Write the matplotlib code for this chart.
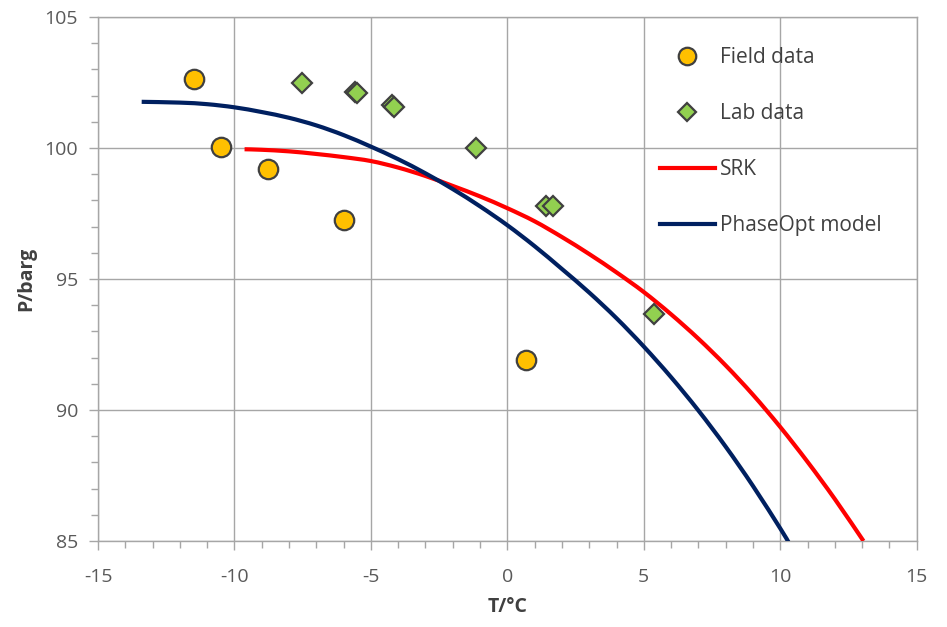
import matplotlib
matplotlib.use("Agg")
import matplotlib.pyplot as plt
from matplotlib.ticker import MultipleLocator
from matplotlib.path import Path
from matplotlib.patches import PathPatch
from matplotlib.lines import Line2D

# ---- data ----
field_T = [-11.47, -10.49, -8.78, -5.97, 0.68]
field_P = [102.63, 100.05, 99.19, 97.25, 91.9]

lab_T = [-7.52, -5.6, -5.5, -4.22, -4.17, -1.15, 1.42, 1.66, 5.38]
lab_P = [102.47, 102.13, 102.08, 101.62, 101.57, 100.0, 97.78, 97.78, 93.65]

srk_T = [-9.63, -9, -8, -7, -6, -5, -4, -3, -2, -1, 0, 1, 2, 3, 4, 5, 6, 7, 8, 9, 10, 11, 12, 13.05]
srk_P = [99.95, 99.93, 99.87, 99.77, 99.65, 99.5, 99.25, 98.93, 98.55, 98.15, 97.7, 97.2,
         96.6, 95.95, 95.25, 94.5, 93.65, 92.72, 91.7, 90.58, 89.35, 88.02, 86.6, 85.0]

po_T = [-13.4, -12, -11, -10, -9, -8, -7, -6, -5, -4, -3, -2, -1, 0, 1, 2, 3, 4, 5, 6, 7, 8, 9, 10, 10.3]
po_P = [101.76, 101.73, 101.67, 101.55, 101.37, 101.15, 100.86, 100.49, 100.05, 99.57, 99.03,
        98.43, 97.77, 97.05, 96.25, 95.38, 94.48, 93.5, 92.42, 91.25, 89.98, 88.6, 87.1, 85.48, 84.96]

labels = ["Field data", "Lab data", "SRK", "PhaseOpt model"]

plt.rcParams['font.family'] = ['Open Sans', 'DejaVu Sans']
plt.rcParams['axes.unicode_minus'] = False


def smooth_path(xs, ys):
    """Excel-style smoothed line: Catmull-Rom through the points as cubic Beziers."""
    pts = list(zip(xs, ys))
    n = len(pts)
    verts = [pts[0]]
    codes = [Path.MOVETO]
    for i in range(n - 1):
        p0 = pts[i - 1] if i > 0 else pts[i]
        p1 = pts[i]
        p2 = pts[i + 1]
        p3 = pts[i + 2] if i + 2 < n else pts[i + 1]
        c1 = (p1[0] + (p2[0] - p0[0]) / 6.0, p1[1] + (p2[1] - p0[1]) / 6.0)
        c2 = (p2[0] - (p3[0] - p1[0]) / 6.0, p2[1] - (p3[1] - p1[1]) / 6.0)
        verts += [c1, c2, p2]
        codes += [Path.CURVE4, Path.CURVE4, Path.CURVE4]
    return Path(verts, codes)


fig = plt.figure(figsize=(9.47, 6.27), dpi=100)
ax = fig.add_axes([0.1035, 0.1372, 0.8645, 0.8358])

grid_c = '#a6a6a6'
ax.set_xlim(-15, 15)
ax.set_ylim(85, 105)
ax.xaxis.set_major_locator(MultipleLocator(5))
ax.xaxis.set_minor_locator(MultipleLocator(1))
ax.yaxis.set_major_locator(MultipleLocator(5))
ax.yaxis.set_minor_locator(MultipleLocator(1))
ax.grid(True, which='major', color=grid_c, linewidth=1.0)
ax.set_axisbelow(True)
for s in ax.spines.values():
    s.set_color(grid_c)
    s.set_linewidth(1.0)

ax.tick_params(axis='both', which='major', direction='out', length=6.5, width=1.0,
               color=grid_c, labelsize=14, labelcolor='#595959')
ax.tick_params(axis='x', which='major', pad=13)
ax.tick_params(axis='y', which='major', pad=8)
ax.tick_params(axis='both', which='minor', direction='out', length=5, width=1.0, color=grid_c)

red = '#FF0000'
navy = '#002060'
ax.add_patch(PathPatch(smooth_path(srk_T, srk_P), facecolor='none', edgecolor=red,
                       linewidth=3.0, zorder=3, capstyle='butt'))
ax.add_patch(PathPatch(smooth_path(po_T, po_P), facecolor='none', edgecolor=navy,
                       linewidth=3.0, zorder=3, capstyle='butt'))

h_field, = ax.plot(field_T, field_P, linestyle='none', marker='o', markersize=14,
                   markerfacecolor='#FFC000', markeredgecolor='#404040', markeredgewidth=1.6,
                   label=labels[0], zorder=4)
h_lab, = ax.plot(lab_T, lab_P, linestyle='none', marker='D', markersize=10,
                 markerfacecolor='#92D050', markeredgecolor='#404040', markeredgewidth=1.6,
                 label=labels[1], zorder=4)
h_srk = Line2D([], [], color=red, linewidth=3.0, label=labels[2])
h_po = Line2D([], [], color=navy, linewidth=3.0, label=labels[3])

ax.set_xlabel('T/°C', fontsize=14, fontweight='bold', color='#404040', labelpad=8)
ax.set_ylabel('P/barg', fontsize=14, fontweight='bold', color='#404040', labelpad=6)

leg = ax.legend(handles=[h_field, h_lab, h_srk, h_po], loc='upper left',
                bbox_to_anchor=(0.676, 0.958), frameon=False,
                fontsize=15, handlelength=2.65, handletextpad=0.22, labelspacing=1.68,
                borderaxespad=0.0, markerscale=0.9)
for t in leg.get_texts():
    t.set_color('#404040')

fig.savefig('out.png', dpi=100)
